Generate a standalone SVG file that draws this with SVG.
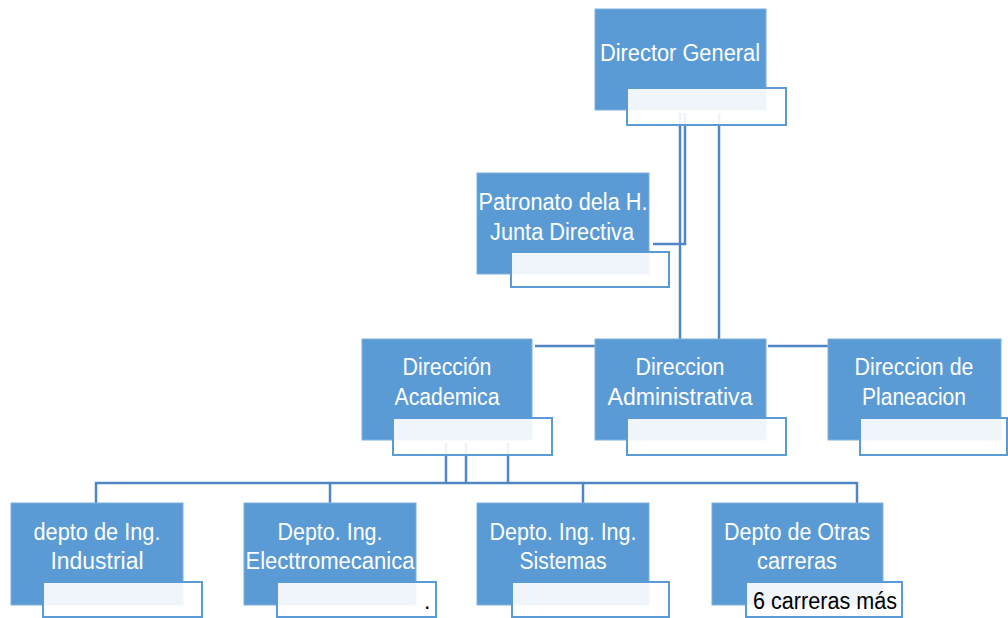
<svg xmlns="http://www.w3.org/2000/svg" width="1008" height="618" viewBox="0 0 1008 618">
<style>
.b{fill:#5b9bd5;stroke:#7fb0de;stroke-width:1}
.w{fill:#ffffff;fill-opacity:0.9;stroke:#5b9bd5;stroke-width:2}
.t{font-family:"Liberation Sans",Arial,sans-serif;font-size:23px;fill:#ffffff;text-anchor:middle}
.k{font-family:"Liberation Sans",Arial,sans-serif;font-size:23px;fill:#000000}
.c{fill:none;stroke:#4f86c3;stroke-width:2.5}
</style>
<rect width="1008" height="618" fill="#ffffff"/>
<g id="connectors">
<path class="c" d="M680 113V339"/>
<path class="c" d="M685 113V244H653"/>
<path class="c" d="M719 113V339"/>
<path class="c" d="M535 346H595"/>
<path class="c" d="M768 346H828"/>
<path class="c" d="M446 443V483M466 443V483M508 443V483"/>
<path class="c" d="M96 503V483H857V503"/>
<path class="c" d="M330 483V503"/>
<path class="c" d="M583 483V503"/>
</g>
<g id="director-general">
<rect class="b" x="595" y="9" width="171" height="101"/>
<text class="t" x="680" y="61" textLength="160" lengthAdjust="spacingAndGlyphs">Director General</text>
<rect class="w" x="627" y="88" width="159" height="37"/>
</g>
<g id="patronato">
<rect class="b" x="477" y="173" width="172" height="101"/>
<text class="t" x="563" y="210" textLength="169" lengthAdjust="spacingAndGlyphs">Patronato dela H.</text>
<text class="t" x="562" y="240" textLength="144" lengthAdjust="spacingAndGlyphs">Junta Directiva</text>
<rect class="w" x="511" y="252" width="158" height="35"/>
</g>
<g id="direccion-academica">
<rect class="b" x="362" y="339" width="170" height="101"/>
<text class="t" x="447" y="375" textLength="89" lengthAdjust="spacingAndGlyphs">Dirección</text>
<text class="t" x="447" y="405" textLength="105" lengthAdjust="spacingAndGlyphs">Academica</text>
<rect class="w" x="393" y="418" width="159" height="37"/>
</g>
<g id="direccion-administrativa">
<rect class="b" x="595" y="339" width="171" height="101"/>
<text class="t" x="680" y="375" textLength="89" lengthAdjust="spacingAndGlyphs">Direccion</text>
<text class="t" x="680" y="405" textLength="145" lengthAdjust="spacingAndGlyphs">Administrativa</text>
<rect class="w" x="627" y="418" width="159" height="37"/>
</g>
<g id="direccion-planeacion">
<rect class="b" x="828" y="339" width="173" height="101"/>
<text class="t" x="914" y="375" textLength="119" lengthAdjust="spacingAndGlyphs">Direccion de</text>
<text class="t" x="914" y="405" textLength="104" lengthAdjust="spacingAndGlyphs">Planeacion</text>
<rect class="w" x="860" y="418" width="147" height="37"/>
</g>
<g id="depto-industrial">
<rect class="b" x="11" y="503" width="172" height="102"/>
<text class="t" x="97" y="540" textLength="127" lengthAdjust="spacingAndGlyphs">depto de Ing.</text>
<text class="t" x="97" y="569" textLength="93" lengthAdjust="spacingAndGlyphs">Industrial</text>
<rect class="w" x="43" y="582" width="159" height="35"/>
</g>
<g id="depto-electromecanica">
<rect class="b" x="244" y="503" width="172" height="102"/>
<text class="t" x="330" y="540" textLength="105" lengthAdjust="spacingAndGlyphs">Depto. Ing.</text>
<text class="t" x="330" y="569" textLength="169" lengthAdjust="spacingAndGlyphs">Electtromecanica</text>
<rect class="w" x="277" y="582" width="159" height="35"/>
<text class="k" x="424" y="609" font-size="16">.</text>
</g>
<g id="depto-sistemas">
<rect class="b" x="477" y="503" width="172" height="102"/>
<text class="t" x="563" y="540" textLength="147" lengthAdjust="spacingAndGlyphs">Depto. Ing. Ing.</text>
<text class="t" x="563" y="569" textLength="87" lengthAdjust="spacingAndGlyphs">Sistemas</text>
<rect class="w" x="512" y="582" width="157" height="35"/>
</g>
<g id="depto-otras">
<rect class="b" x="712" y="503" width="171" height="102"/>
<text class="t" x="797" y="540" textLength="146" lengthAdjust="spacingAndGlyphs">Depto de Otras</text>
<text class="t" x="797" y="569" textLength="80" lengthAdjust="spacingAndGlyphs">carreras</text>
<rect class="w" x="746" y="582" width="156" height="35"/>
<text class="k" x="753" y="609" textLength="144" lengthAdjust="spacingAndGlyphs">6 carreras más</text>
</g>
</svg>
